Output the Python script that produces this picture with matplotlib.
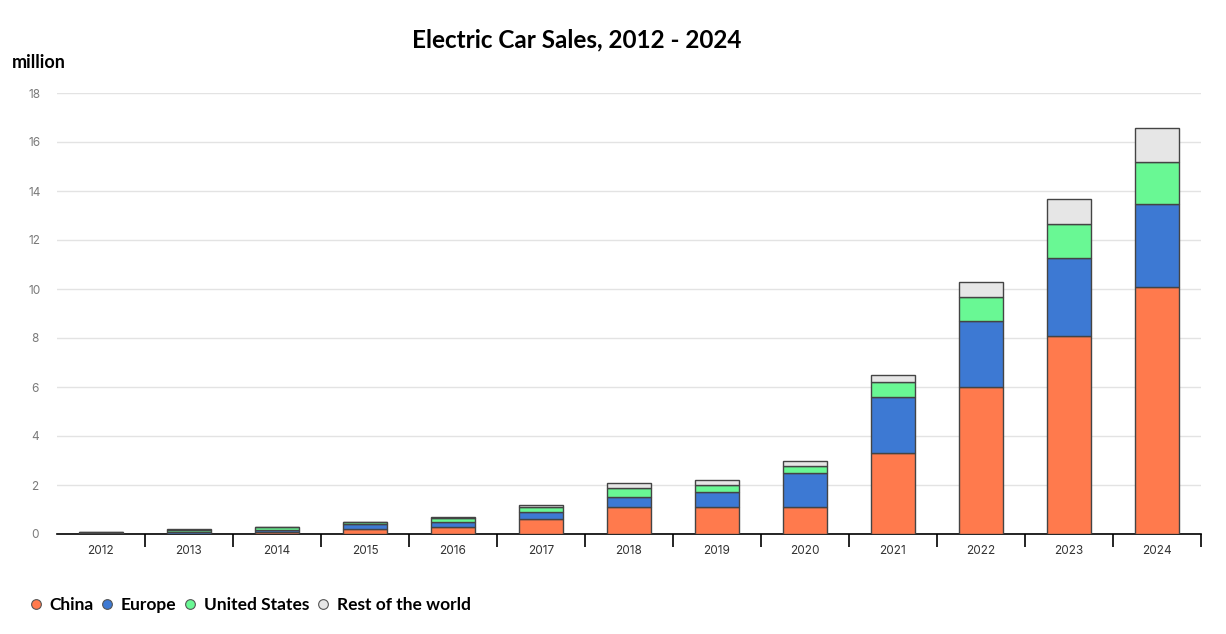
import matplotlib
matplotlib.use("Agg")
import matplotlib.pyplot as plt
from matplotlib.lines import Line2D
import numpy as np

years = ["2012", "2013", "2014", "2015", "2016", "2017", "2018",
         "2019", "2020", "2021", "2022", "2023", "2024"]
china = [0.01, 0.02, 0.07, 0.19, 0.27, 0.60, 1.09, 1.09, 1.09, 3.31, 6.00, 8.08, 10.07]
europe = [0.02, 0.06, 0.10, 0.20, 0.20, 0.29, 0.41, 0.61, 1.38, 2.28, 2.69, 3.18, 3.39]
usa = [0.04, 0.10, 0.10, 0.08, 0.20, 0.20, 0.36, 0.29, 0.29, 0.61, 0.98, 1.39, 1.71]
rest = [0.01, 0.01, 0.02, 0.02, 0.01, 0.08, 0.21, 0.20, 0.20, 0.29, 0.62, 1.02, 1.39]
series_names = ["China", "Europe", "United States", "Rest of the world"]
colors = ["#FF7A4D", "#3D79D3", "#69F894", "#E6E6E6"]
yticks = [0, 2, 4, 6, 8, 10, 12, 14, 16, 18]

W, H = 1226, 634
fig = plt.figure(figsize=(W / 100, H / 100), dpi=100)
ax = fig.add_axes([57 / W, (H - 534) / H, (1201 - 57) / W, 441 / H])

x = np.arange(len(years))
bottom = np.zeros(len(years))
for vals, c, name in zip([china, europe, usa, rest], colors, series_names):
    ax.bar(x, vals, width=0.5, bottom=bottom, color=c, edgecolor="#444444",
           linewidth=1.0, label=name, zorder=3)
    bottom += np.array(vals)

ax.set_xlim(-0.5, len(years) - 0.5)
ax.set_ylim(0, 18)
ax.set_yticks(yticks)
ax.set_yticklabels([str(v) for v in yticks])
ax.grid(axis="y", color="#E3E3E3", linewidth=1.0, zorder=0)
ax.set_axisbelow(True)

for s in ["top", "right", "left"]:
    ax.spines[s].set_visible(False)
ax.spines["bottom"].set_color("black")
ax.spines["bottom"].set_linewidth(1.2)

ax.tick_params(axis="y", length=0, pad=16, labelsize=8.5, labelcolor="#7A7A7A")
for lbl in ax.get_yticklabels():
    lbl.set_horizontalalignment("center")
ax.set_xticks(x)
ax.set_xticklabels(years)
ax.tick_params(axis="x", which="major", length=0, pad=8, labelsize=8.5, labelcolor="#333333")
ax.set_xticks(np.arange(0.5, len(years), 1.0), minor=True)
ax.tick_params(axis="x", which="minor", length=9, width=1.2, color="black", direction="out")

for lbl in ax.get_xticklabels() + ax.get_yticklabels():
    lbl.set_fontfamily("Inter")

fig.text(577 / W, 1 - 40 / H, "Electric Car Sales, 2012 - 2024", ha="center", va="center",
         fontsize=17.5, fontweight="bold", family="Lato")
fig.text(12 / W, 1 - 62 / H, "million", ha="left", va="center",
         fontsize=13, fontweight="bold", family="Lato")

handles = [Line2D([0], [0], marker="o", linestyle="none", markersize=7,
                  markerfacecolor=c, markeredgecolor="#555555", markeredgewidth=0.8)
           for c in colors]
leg = fig.legend(handles, series_names, loc="center left",
                 bbox_to_anchor=(27 / W, 1 - 605 / H), ncol=4, frameon=False,
                 handletextpad=0.3, columnspacing=0.27, handlelength=1.0,
                 borderaxespad=0, borderpad=0,
                 prop={"family": "Lato", "weight": "bold", "size": 12.5})

fig.savefig("out.png", dpi=100)
